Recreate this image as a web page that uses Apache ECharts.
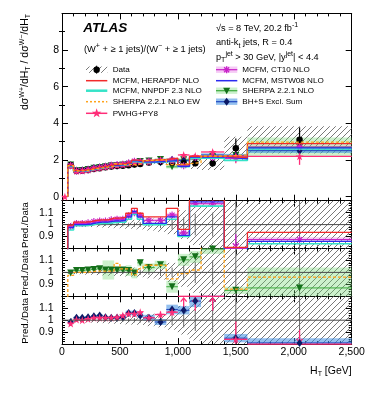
<!DOCTYPE html>
<html>
<head>
<meta charset="utf-8">
<title>W+/W- ratio vs HT</title>
<script src="https://cdn.jsdelivr.net/npm/echarts@6.0.0/dist/echarts.min.js"></script>
<style>
  html, body { margin: 0; padding: 0; background: #fff; }
  #root { width: 374px; height: 396px; }
</style>
</head>
<body>
<div id="root"></div>
<script>
// HT bin edges [GeV], the first bin (0-50) has no data
const binEdges = [0, 50, 100, 150, 200, 250, 300, 350, 400, 450, 500, 550, 600, 650, 700, 800, 900, 1000, 1100, 1200, 1400, 1600, 2500];

const mainYTicks = [0, 2, 4, 6, 8];
const mainYMinor = [1, 3, 5, 7, 9];

// measured (W+ + >=1 jets)/(W- + >=1 jets) and relative uncertainties
const dataVal  = [null, 1.73, 1.40, 1.41, 1.45, 1.51, 1.55, 1.60, 1.65, 1.67, 1.69, 1.71, 1.76, 1.78, 1.87, 1.91, 1.85, 1.82, 1.82, 1.82, 2.64, 3.10];
const dataStat = [0, 0.005, 0.005, 0.005, 0.006, 0.007, 0.008, 0.009, 0.01, 0.012, 0.014, 0.016, 0.018, 0.02, 0.02, 0.03, 0.04, 0.06, 0.09, 0.1, 0.2, 0.22];
const dataSyst = [0, 0.015, 0.015, 0.015, 0.02, 0.02, 0.025, 0.025, 0.03, 0.03, 0.035, 0.035, 0.04, 0.04, 0.05, 0.06, 0.08, 0.12, 0.17, 0.2, 0.24, 0.24];

// predictions, read as Pred./Data
const mcfmHera  = [0, 0.995, 1.02, 1.02, 1.025, 1.035, 1.04, 1.04, 1.055, 1.055, 1.06, 1.095, 1.135, 1.095, 1.065, 1.065, 1.135, 0.96, 1.21, 1.21, 0.81, 0.935];
const mcfmMstw  = [0, 0.975, 1.0, 1.0, 1.005, 1.015, 1.02, 1.02, 1.03, 1.03, 1.035, 1.065, 1.11, 1.065, 1.01, 1.01, 1.065, 0.91, 1.19, 1.19, 0.78, 0.86];
const mcfmNnpdf = [0, 0.955, 0.99, 0.99, 0.995, 1.005, 1.01, 1.01, 1.015, 1.02, 1.02, 1.045, 1.085, 1.045, 1.0, 1.0, 1.045, 0.9, 1.155, 1.155, 0.75, 0.84];
const mcfmCt10  = [null, 0.985, 1.01, 1.01, 1.015, 1.025, 1.03, 1.03, 1.04, 1.045, 1.045, 1.075, 1.1, 1.075, 1.035, 1.035, 1.08, 0.93, 1.175, 1.175, 0.79, 0.875];
const mcfmCt10Err = [0, 0.01, 0.01, 0.01, 0.01, 0.01, 0.01, 0.01, 0.01, 0.01, 0.012, 0.012, 0.012, 0.012, 0.015, 0.015, 0.015, 0.015, 0.015, 0.015, 0.02, 0.02];
const sherpaEw  = [0, 0.975, 1.0, 1.0, 1.005, 1.01, 1.01, 1.01, 1.01, 1.075, 1.03, 1.03, 0.98, 1.03, 1.06, 1.06, 0.945, 0.99, 1.02, 1.22, 0.86, 0.96];
const sherpaNlo = [null, 0.995, 1.015, 1.015, 1.02, 1.025, 1.03, 1.02, 1.02, 1.02, 1.02, 1.015, 0.995, 1.08, 1.04, 1.063, 0.88, 1.105, 1.13, 1.195, 0.85, 0.87];
const sherpaNloErr = [0, 0.008, 0.008, 0.008, 0.008, 0.008, 0.01, 0.08, 0.08, 0.015, 0.015, 0.045, 0.045, 0.03, 0.035, 0.035, 0.05, 0.05, 0.05, 0.04, 0.03, 0.17];
const bhsSum    = [null, 0.985, 1.02, 1.02, 1.025, 1.033, 1.04, 1.025, 1.02, 1.02, 1.025, 1.06, 1.06, 1.04, 1.02, 0.985, 1.09, 1.083, 1.16, 1.25, 0.85, 0.81];
const bhsSumErr = [0, 0.01, 0.01, 0.01, 0.01, 0.01, 0.01, 0.01, 0.01, 0.01, 0.015, 0.02, 0.02, 0.02, 0.025, 0.025, 0.04, 0.035, 0.05, 0.05, 0.035, 0.04];
const pwhgPy8   = [0, 0.972, 1.005, 1.0, 1.01, 1.02, 1.02, 1.02, 1.02, 1.025, 1.04, 1.055, 1.055, 1.067, 1.02, 1.047, 1.067, 1.25, 1.22, 1.34, 0.84, 0.71];
const pwhgPy8Err = [0, 0.01, 0.01, 0.01, 0.01, 0.01, 0.01, 0.01, 0.01, 0.01, 0.012, 0.015, 0.015, 0.015, 0.02, 0.025, 0.03, 0.04, 0.05, 0.06, 0.15, 0.15];

const FONT = '"Liberation Sans", Arial, Helvetica, sans-serif';
const RATIO_MIN = 0.8;
const RATIO_MAX = 1.2;

const C_HERA = '#f22b2b';
const C_NNPDF = '#35e3c8';
const C_MSTW = '#2b2bf0';
const C_CT10 = '#c822c8';
const C_CT10_BAND = 'rgba(232, 140, 232, 0.45)';
const C_EW = '#ffa31a';
const C_SHERPA = '#14701a';
const C_SHERPA_LINE = '#3aa83a';
const C_SHERPA_BAND = 'rgba(110, 215, 110, 0.35)';
const C_BHS = '#0b1a66';
const C_BHS_LINE = '#2048c0';
const C_BHS_BAND = 'rgba(60, 140, 225, 0.55)';
const C_PWHG = '#ff2d78';

const STAR = 'M0,-10L2.245,-3.09L9.51,-3.09L3.633,1.18L5.88,8.09L0,3.82L-5.88,8.09L-3.633,1.18L-9.51,-3.09L-2.245,-3.09Z';
const ASTER = 'M-1,-6L1,-6L1,6L-1,6Z M-6,-1L6,-1L6,1L-6,1Z M-4.95,-3.54L-3.54,-4.95L4.95,3.54L3.54,4.95Z M3.54,-4.95L4.95,-3.54L-3.54,4.95L-4.95,3.54Z';

const centers = binEdges.slice(0, -1).map((e, i) => (e + binEdges[i + 1]) / 2);

function hatchPattern() {
    let c = document.createElement('canvas');
    c.width = 6; c.height = 6;
    let ctx = c.getContext('2d');
    ctx.strokeStyle = '#6a6a6a';
    ctx.lineWidth = 0.9;
    ctx.beginPath();
    ctx.moveTo(0, 6); ctx.lineTo(6, 0);
    ctx.moveTo(-1, 1); ctx.lineTo(1, -1);
    ctx.moveTo(5, 7); ctx.lineTo(7, 5);
    ctx.stroke();
    return { image: c, repeat: 'repeat' };
}
const hatch = hatchPattern();

// pred/data -> absolute value in the top panel
let toAbs = (r, i) => (r == null ? null : (i === 0 ? 0 : r * dataVal[i]));
let absOf = arr => arr.map(toAbs);

function ax(g) {
    return { xAxisIndex: 2 * g, yAxisIndex: g === 0 ? 0 : 4 + (g - 1) * 2 };
}

function stepLine(g, vals, color, width, dashed) {
    let pts = [];
    vals.forEach((v, i) => {
        if (v == null) return;
        if (i === 0) { pts.push([binEdges[1], v]); return; }
        pts.push([binEdges[i], v], [binEdges[i + 1], v]);
    });
    return Object.assign({
        type: 'line', data: pts, symbol: 'none', silent: true,
        lineStyle: { color: color, width: width, type: dashed ? [3, 2] : 'solid' }
    }, ax(g));
}

let coordRect = p => ({ x: p.coordSys.x, y: p.coordSys.y, width: p.coordSys.width, height: p.coordSys.height });

// boxes [x0, x1, lo, hi]
function bandSeries(g, items, fill) {
    return Object.assign({
        type: 'custom', data: items, silent: true,
        renderItem: (params, api) => {
            let p0 = api.coord([api.value(0), api.value(3)]);
            let p1 = api.coord([api.value(1), api.value(2)]);
            let shape = echarts.graphic.clipRectByRect(
                { x: p0[0], y: p0[1], width: p1[0] - p0[0], height: p1[1] - p0[1] }, coordRect(params));
            return shape && { type: 'rect', shape: shape, style: { fill: fill } };
        }
    }, ax(g));
}

// segments [xa, ya, xb, yb]
function segSeries(g, items, color, width) {
    return Object.assign({
        type: 'custom', data: items, silent: true,
        renderItem: (params, api) => {
            let pts = echarts.graphic.clipPointsByRect([
                api.coord([api.value(0), api.value(1)]),
                api.coord([api.value(2), api.value(3)])
            ], coordRect(params));
            return {
                type: 'line',
                shape: { x1: pts[0][0], y1: pts[0][1], x2: pts[1][0], y2: pts[1][1] },
                style: { stroke: color, lineWidth: width }
            };
        }
    }, ax(g));
}

// off-scale arrows [x, dir]
function arrowSeries(g, items, color) {
    return Object.assign({
        type: 'custom', data: items, silent: true,
        renderItem: (params, api) => {
            let x = api.value(0), dir = api.value(1);
            let a = api.coord([x, dir > 0 ? 1.08 : 0.92]);
            let b = api.coord([x, dir > 0 ? 1.185 : 0.815]);
            return {
                type: 'group', children: [
                    { type: 'line', shape: { x1: a[0], y1: a[1], x2: b[0], y2: b[1] }, style: { stroke: color, lineWidth: 1.3 } },
                    { type: 'polyline', shape: { points: [[b[0] - 3, b[1] + 3.5 * dir], [b[0], b[1]], [b[0] + 3, b[1] + 3.5 * dir]] },
                      style: { stroke: color, lineWidth: 1.3, fill: null } }
                ]
            };
        }
    }, ax(g));
}

function scatter(g, pts, symbol, size, color, rotate) {
    return Object.assign({
        type: 'scatter', data: pts, symbol: symbol, symbolSize: size, symbolRotate: rotate || 0,
        itemStyle: { color: color, opacity: 1 }, silent: true
    }, ax(g));
}

let boxes = (vals, err, scale) => {
    let out = [];
    vals.forEach((v, i) => {
        if (v == null || i === 0) return;
        let s = scale ? dataVal[i] : 1;
        out.push([binEdges[i], binEdges[i + 1], (v - err[i]) * s, (v + err[i]) * s]);
    });
    return out;
};
let hBars = vals => {
    let out = [];
    vals.forEach((v, i) => { if (v != null) out.push([binEdges[i], v, binEdges[i + 1], v]); });
    return out;
};
let vBars = (vals, err, scale) => {
    let out = [];
    vals.forEach((v, i) => {
        if (v == null || i === 0) return;
        let s = scale ? dataVal[i] : 1;
        out.push([centers[i], (v - err[i]) * s, centers[i], (v + err[i]) * s]);
    });
    return out;
};
let points = vals => {
    let out = [];
    vals.forEach((v, i) => { if (v != null) out.push([centers[i], v]); });
    return out;
};
let inRange = vals => points(vals).filter(p => p[1] >= RATIO_MIN && p[1] <= RATIO_MAX);
let offRange = vals => points(vals).filter(p => p[1] < RATIO_MIN || p[1] > RATIO_MAX)
    .map(p => [p[0], p[1] > RATIO_MAX ? 1 : -1]);
let noFirst = arr => arr.map((v, i) => (i === 0 ? null : v));

const dataRel = dataVal.map(v => (v == null ? null : 1));

function ratioBase(g) {
    return [
        bandSeries(g, boxes(dataRel, dataSyst, false), hatch),
        Object.assign({ type: 'line', data: [[0, 1], [2500, 1]], symbol: 'none', silent: true,
            lineStyle: { color: '#4a4a4a', width: 1 } }, ax(g)),
        segSeries(g, vBars(dataRel, dataStat, false), '#6a6a6a', 1)
    ];
}

let series = [];

// top panel
series.push(
    bandSeries(0, boxes(dataRel, dataSyst, true), hatch),
    bandSeries(0, boxes(sherpaNlo, sherpaNloErr, true), C_SHERPA_BAND),
    bandSeries(0, boxes(bhsSum, bhsSumErr, true), C_BHS_BAND),
    bandSeries(0, boxes(mcfmCt10, mcfmCt10Err, true), C_CT10_BAND),
    stepLine(0, absOf(mcfmNnpdf), C_NNPDF, 1.6),
    stepLine(0, absOf(mcfmMstw), C_MSTW, 1.3),
    stepLine(0, absOf(mcfmHera), C_HERA, 1.3),
    stepLine(0, absOf(sherpaEw), C_EW, 1.3, true),
    segSeries(0, hBars(absOf(mcfmCt10)), C_CT10, 1),
    segSeries(0, hBars(absOf(sherpaNlo)), C_SHERPA_LINE, 1),
    segSeries(0, hBars(absOf(bhsSum)), C_BHS_LINE, 1),
    segSeries(0, hBars(absOf(pwhgPy8)), C_PWHG, 1.3),
    segSeries(0, vBars(pwhgPy8, pwhgPy8Err, true), C_PWHG, 1.3),
    segSeries(0, vBars(dataRel, dataStat, true), '#000', 1.2),
    scatter(0, points(absOf(sherpaNlo)), 'triangle', 7, C_SHERPA, 180),
    scatter(0, points(absOf(bhsSum)), 'diamond', [6, 8], C_BHS),
    scatter(0, points(noFirst(dataVal)), 'circle', 6.5, '#000'),
    scatter(0, points(absOf(mcfmCt10)), 'path://' + ASTER, 7, C_CT10),
    scatter(0, points(absOf(pwhgPy8)), 'path://' + STAR, 8, C_PWHG)
);

// ratio panel: MCFM
series.push(...ratioBase(1),
    bandSeries(1, boxes(mcfmCt10, mcfmCt10Err, false), C_CT10_BAND),
    stepLine(1, mcfmNnpdf, C_NNPDF, 1.6),
    stepLine(1, mcfmMstw, C_MSTW, 1.3),
    stepLine(1, mcfmHera, C_HERA, 1.3),
    segSeries(1, hBars(mcfmCt10), C_CT10, 1),
    scatter(1, inRange(mcfmCt10), 'path://' + ASTER, 7, C_CT10),
    arrowSeries(1, offRange(mcfmCt10), C_CT10)
);

// ratio panel: SHERPA
series.push(...ratioBase(2),
    bandSeries(2, boxes(sherpaNlo, sherpaNloErr, false), C_SHERPA_BAND),
    stepLine(2, sherpaEw, C_EW, 1.3, true),
    segSeries(2, hBars(sherpaNlo), C_SHERPA_LINE, 1),
    scatter(2, inRange(sherpaNlo), 'triangle', 7, C_SHERPA, 180),
    arrowSeries(2, offRange(sherpaNlo), C_SHERPA)
);

// ratio panel: BH+S and PWHG
series.push(...ratioBase(3),
    bandSeries(3, boxes(bhsSum, bhsSumErr, false), C_BHS_BAND),
    segSeries(3, hBars(bhsSum), C_BHS_LINE, 1),
    segSeries(3, hBars(noFirst(pwhgPy8)), C_PWHG, 1.3),
    segSeries(3, vBars(pwhgPy8, pwhgPy8Err, false), C_PWHG, 1.3),
    scatter(3, inRange(bhsSum), 'diamond', [6, 8], C_BHS),
    scatter(3, inRange(noFirst(pwhgPy8)), 'path://' + STAR, 8, C_PWHG),
    arrowSeries(3, offRange(bhsSum), C_BHS),
    arrowSeries(3, offRange(noFirst(pwhgPy8)), C_PWHG)
);

// panels
const grids = [
    { left: 62, right: 22.3, top: 13.4, height: 187.3 },
    { left: 62, right: 22.3, top: 200.7, height: 47.8 },
    { left: 62, right: 22.3, top: 248.5, height: 47.8 },
    { left: 62, right: 22.3, top: 296.3, height: 47.8 }
].map(g => Object.assign({ outerBoundsMode: 'none', containLabel: false }, g));

const labelStyle = { color: '#000', fontSize: 10.5, fontFamily: FONT };
const lineBlack = { show: true, onZero: false, lineStyle: { color: '#000', width: 1 } };

let xAxes = [];
grids.forEach((g, i) => {
    ['bottom', 'top'].forEach(pos => xAxes.push({
        type: 'value', gridIndex: i, position: pos, min: 0, max: 2500, interval: 500,
        axisLine: lineBlack,
        axisTick: { show: true, inside: true, length: 6, lineStyle: { color: '#000' } },
        minorTick: { show: true, splitNumber: 5, length: 3, lineStyle: { color: '#000' } },
        splitLine: { show: false },
        axisLabel: Object.assign({ show: i === 3 && pos === 'bottom', margin: 3 }, labelStyle)
    }));
});

let yAxes = [];
['left', 'right'].forEach(pos => {
    yAxes.push({
        type: 'value', gridIndex: 0, position: pos, min: -0.22, max: 10,
        axisLine: lineBlack, splitLine: { show: false },
        axisTick: { show: true, inside: true, length: 6, customValues: mainYTicks, lineStyle: { color: '#000' } },
        axisLabel: Object.assign({ show: pos === 'left', customValues: mainYTicks, margin: 3 }, labelStyle)
    });
    yAxes.push({
        type: 'value', gridIndex: 0, position: pos, min: -0.22, max: 10,
        axisLine: { show: false }, splitLine: { show: false }, axisLabel: { show: false },
        axisTick: { show: true, inside: true, length: 3, customValues: mainYMinor, lineStyle: { color: '#000' } }
    });
});
[1, 2, 3].forEach(g => {
    ['left', 'right'].forEach(pos => yAxes.push({
        type: 'value', gridIndex: g, position: pos, min: RATIO_MIN, max: RATIO_MAX, interval: 0.1,
        axisLine: lineBlack, splitLine: { show: false },
        axisTick: { show: true, inside: true, length: 6, lineStyle: { color: '#000' } },
        minorTick: { show: true, splitNumber: 5, length: 3, lineStyle: { color: '#000' } },
        axisLabel: Object.assign({
            show: pos === 'left', showMinLabel: false, showMaxLabel: false, margin: 8.5,
            formatter: v => String(Math.round(v * 10) / 10)
        }, labelStyle)
    }));
});

// texts and legend
const supSub = {
    sup: { fontSize: 7, fontFamily: FONT, verticalAlign: 'top', lineHeight: 8 },
    sub: { fontSize: 7, fontFamily: FONT, verticalAlign: 'bottom', lineHeight: 8 }
};
function text(x, y, str, size, align, rotation) {
    return {
        type: 'text', x: x, y: y, rotation: rotation || 0, silent: true,
        style: { text: str, fontSize: size, fontFamily: FONT, fill: '#000', align: align || 'left',
                 verticalAlign: 'middle', lineHeight: 13, rich: supSub }
    };
}

let graphics = [
    { type: 'text', x: 83.3, y: 28.3, silent: true,
      style: { text: 'ATLAS', font: 'italic bold 13.5px ' + FONT, fill: '#000', verticalAlign: 'middle' } },
    text(84, 49.3, '(W{sup|+} + ≥ 1 jets)/(W{sup|−} + ≥ 1 jets)', 9.3),
    text(216, 28.3, '√s = 8 TeV, 20.2 fb{sup|-1}', 9.2),
    text(216, 42.7, 'anti-k{sub|t} jets, R = 0.4', 9.2),
    text(216, 57.3, 'p{sub|T}{sup|jet} > 30 GeV, |y{sup|jet}| < 4.4', 9.2),
    text(25, 14, 'dσ{sup|W+}/dH{sub|T} / dσ{sup|W−}/dH{sub|T}', 10.5, 'right', Math.PI / 2),
    text(351.7, 370.7, 'H{sub|T} [GeV]', 10.5, 'right')
];
grids.slice(1).forEach(g => graphics.push(text(25, g.top + 1.5, 'Pred./Data', 9.6, 'right', Math.PI / 2)));

const LX0 = 86, LX1 = 107.3, RX0 = 216, RX1 = 237.3;
let legLine = (x0, x1, y, color, width, dash) => ({ type: 'line', silent: true,
    shape: { x1: x0, y1: y, x2: x1, y2: y }, style: { stroke: color, lineWidth: width, lineDash: dash || null } });
let legBand = (x0, x1, y, fill) => ({ type: 'rect', silent: true, shape: { x: x0, y: y - 3.2, width: x1 - x0, height: 6.4 }, style: { fill: fill } });
let legStar = (cx, cy, r, color) => {
    let pts = [];
    for (let k = 0; k < 10; k++) {
        let a = -Math.PI / 2 + k * Math.PI / 5, rr = k % 2 ? r * 0.4 : r;
        pts.push([cx + rr * Math.cos(a), cy + rr * Math.sin(a)]);
    }
    return { type: 'polygon', silent: true, shape: { points: pts }, style: { fill: color } };
};
let legAster = (cx, cy, r, color) => ({
    type: 'group', silent: true, children: [0, 1, 2, 3].map(k => {
        let a = k * Math.PI / 4;
        return { type: 'line', shape: { x1: cx - r * Math.cos(a), y1: cy - r * Math.sin(a), x2: cx + r * Math.cos(a), y2: cy + r * Math.sin(a) },
                 style: { stroke: color, lineWidth: 1.3 } };
    })
});
let legLabel = (x, y, str) => text(x, y, str, 8.1);

const legRows = [69.7, 80.7, 90.7, 101.7, 113.3];
const lc = (LX0 + LX1) / 2, rc = (RX0 + RX1) / 2;
graphics.push(
    legBand(LX0, LX1, legRows[0], hatch),
    { type: 'line', silent: true, shape: { x1: lc, y1: legRows[0] - 4, x2: lc, y2: legRows[0] + 4 }, style: { stroke: '#000', lineWidth: 1 } },
    { type: 'circle', silent: true, shape: { cx: lc, cy: legRows[0], r: 3.2 }, style: { fill: '#000' } },
    legLabel(112.7, legRows[0], 'Data'),
    legLine(LX0, LX1, legRows[1], C_HERA, 1.5),
    legLabel(112.7, legRows[1], 'MCFM, HERAPDF NLO'),
    legLine(LX0, LX1, legRows[2], C_NNPDF, 2.5),
    legLabel(112.7, legRows[2], 'MCFM, NNPDF 2.3 NLO'),
    legLine(LX0, LX1, legRows[3], C_EW, 1.5, [2, 2]),
    legLabel(112.7, legRows[3], 'SHERPA 2.2.1 NLO EW'),
    legLine(LX0, LX1, legRows[4], C_PWHG, 1.5),
    legStar(lc, legRows[4], 5, C_PWHG),
    legLabel(112.7, legRows[4], 'PWHG+PY8'),

    legBand(RX0, RX1, legRows[0], C_CT10_BAND),
    legLine(RX0, RX1, legRows[0], C_CT10, 1.2),
    legAster(rc, legRows[0], 3.5, C_CT10),
    legLabel(242.3, legRows[0], 'MCFM, CT10 NLO'),
    legLine(RX0, RX1, legRows[1], C_MSTW, 1.5),
    legLabel(242.3, legRows[1], 'MCFM, MSTW08 NLO'),
    legBand(RX0, RX1, legRows[2], C_SHERPA_BAND),
    legLine(RX0, RX1, legRows[2], C_SHERPA_LINE, 1.2),
    { type: 'polygon', silent: true, shape: { points: [[rc - 3.5, legRows[2] - 3], [rc + 3.5, legRows[2] - 3], [rc, legRows[2] + 3.5]] }, style: { fill: C_SHERPA } },
    legLabel(242.3, legRows[2], 'SHERPA 2.2.1 NLO'),
    legBand(RX0, RX1, legRows[3], C_BHS_BAND),
    legLine(RX0, RX1, legRows[3], C_BHS_LINE, 1.2),
    { type: 'polygon', silent: true, shape: { points: [[rc, legRows[3] - 4], [rc + 3, legRows[3]], [rc, legRows[3] + 4], [rc - 3, legRows[3]]] }, style: { fill: C_BHS } },
    legLabel(242.3, legRows[3], 'BH+S Excl. Sum')
);

let myChart = echarts.init(document.getElementById('root'));
myChart.setOption({
    animation: false,
    backgroundColor: '#fff',
    grid: grids,
    xAxis: xAxes,
    yAxis: yAxes,
    series: series,
    graphic: { elements: graphics }
});
</script>
</body>
</html>
